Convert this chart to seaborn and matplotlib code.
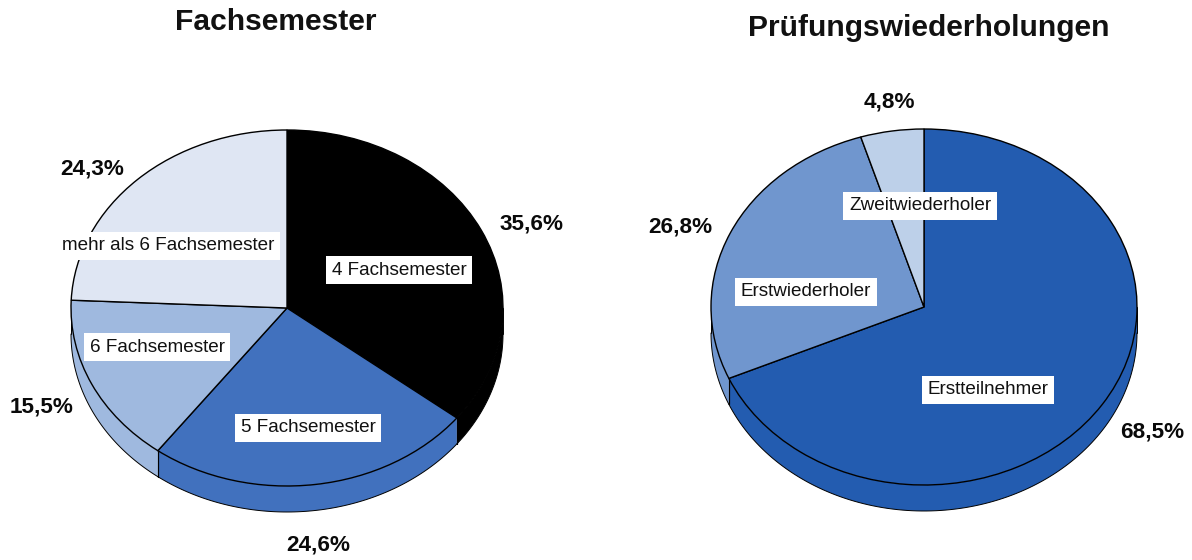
import numpy as np
import matplotlib
matplotlib.use("Agg")
import matplotlib.pyplot as plt
import seaborn as sns

sns.set_theme(style="white")
plt.rcParams['font.family'] = ['Liberation Sans', 'DejaVu Sans']

W, H = 1192, 560

titles = ["Fachsemester", "Prüfungswiederholungen"]
semester_labels = ["4 Fachsemester", "5 Fachsemester", "6 Fachsemester", "mehr als 6 Fachsemester"]
semester_values = [35.6, 24.6, 15.5, 24.3]
semester_colors = ["#000000", "#4171BE", "#9FB9DF", "#DFE6F3"]
retake_labels = ["Erstteilnehmer", "Erstwiederholer", "Zweitwiederholer"]
retake_values = [68.5, 26.8, 4.8]
retake_colors = ["#235CB0", "#7096CE", "#BDD0E9"]


def fmt(v):
    return f"{v:.1f}".replace(".", ",") + "%"


def pie3d(box, values, colors, depth):
    x0, x1, ytop, ybot = box
    ax = fig.add_axes([x0 / W, 1 - ybot / H, (x1 - x0) / W, (ybot - ytop) / H])
    total = sum(values)
    fr = np.cumsum([0] + list(values)) / total
    starts = 90 - 360 * fr[:-1]
    ends = 90 - 360 * fr[1:]
    # side wall (only the front half of the rim is visible)
    for a, b, c in zip(starts, ends, colors):
        hi, lo = min(a, 0), max(b, -180)
        if hi <= lo:
            continue
        t = np.radians(np.linspace(hi, lo, 120))
        xs = np.r_[np.cos(t), np.cos(t[::-1])]
        ys = np.r_[np.sin(t), np.sin(t[::-1]) - depth]
        ax.fill(xs, ys, facecolor=c, edgecolor="none", zorder=1, clip_on=False)
        ax.plot(np.cos(t), np.sin(t) - depth, color="black", lw=0.7, zorder=2, clip_on=False)
        for edge in (hi, lo):
            if -180 < edge < 0:
                r = np.radians(edge)
                ax.plot([np.cos(r)] * 2, [np.sin(r), np.sin(r) - depth], color="black", lw=0.8,
                        zorder=2, clip_on=False)
    # outer silhouette ends
    ax.plot([-1, -1], [0, -depth], color="black", lw=0.7, zorder=2, clip_on=False)
    ax.plot([1, 1], [0, -depth], color="black", lw=0.7, zorder=2, clip_on=False)
    ax.pie(values, colors=colors, startangle=90, counterclock=False, radius=1,
           wedgeprops=dict(edgecolor="black", linewidth=1.0, zorder=3, clip_on=False))
    ax.set_aspect("auto")
    ax.set_xlim(-1, 1)
    ax.set_ylim(-1, 1)
    ax.axis("off")
    return ax


def px_text(x, y, s, **kw):
    fig.text(x / W, 1 - y / H, s, ha="center", va="center", **kw)


fig = plt.figure(figsize=(W / 100, H / 100), dpi=100, facecolor="white")

pie3d((71, 503, 130, 486), semester_values, semester_colors, 26 / 178)
pie3d((711, 1137, 129, 485), retake_values, retake_colors, 26 / 178)

px_text(275.5, 22, titles[0], fontsize=21.6, fontweight="bold", color="#111111")
px_text(929, 28, titles[1], fontsize=21.6, fontweight="bold", color="#111111")

box = dict(boxstyle="square,pad=0.3", facecolor="white", edgecolor="none")
for lab, p in zip(semester_labels, [(399, 270), (308, 428), (157, 347), (168, 246)]):
    px_text(p[0], p[1], lab, fontsize=13.6, color="#111111", bbox=box, zorder=5)
for lab, p in zip(retake_labels, [(988, 390), (806, 292), (920, 206)]):
    px_text(p[0], p[1], lab, fontsize=13.6, color="#111111", bbox=box, zorder=5)

for v, p in zip(semester_values, [(532, 224), (318, 545), (42, 407), (92, 169)]):
    px_text(p[0], p[1], fmt(v), fontsize=16.2, fontweight="bold", color="#0a0a0a")
for v, p in zip(retake_values, [(1152, 432), (680, 227), (889, 102)]):
    px_text(p[0], p[1], fmt(v), fontsize=16.2, fontweight="bold", color="#0a0a0a")

fig.savefig("out.png", dpi=100, facecolor="white")
